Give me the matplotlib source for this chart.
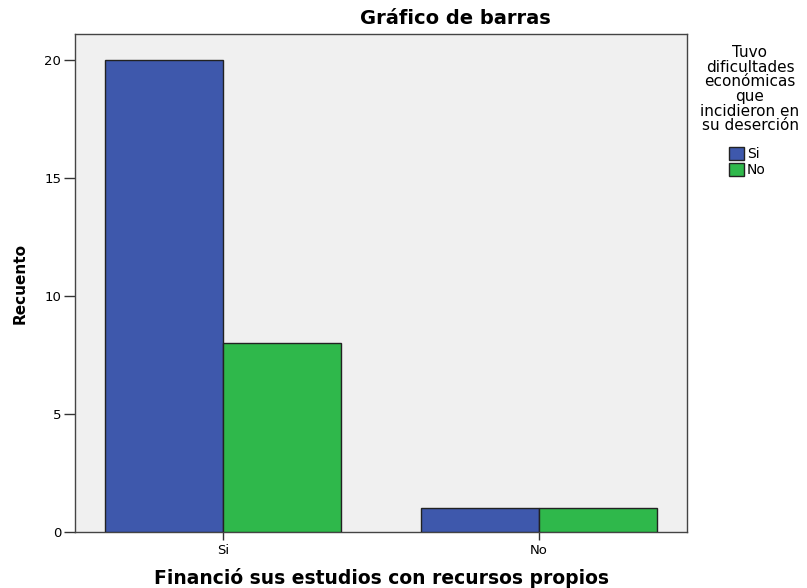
import numpy as np
import matplotlib
matplotlib.use("Agg")
from matplotlib import pyplot as plt
from matplotlib.patches import Patch

# data
categories = ["Si", "No"]
serie_si = [20, 1]
serie_no = [8, 1]
series_labels = ["Si", "No"]
y_ticks = [0, 5, 10, 15, 20]

blue = "#3e58ac"
green = "#2fb84b"
font = "DejaVu Sans"

fig = plt.figure(figsize=(8.07, 5.88), dpi=100)
ax = fig.add_axes([75/807, 1 - 532/588, (687-75)/807, (532-34)/588])
ax.set_facecolor("#f0f0f0")

x = np.arange(len(categories))
w = 0.373
ax.bar(x - w/2, serie_si, width=w, color=blue, edgecolor="#222222", linewidth=1.0, zorder=3)
ax.bar(x + w/2, serie_no, width=w, color=green, edgecolor="#222222", linewidth=1.0, zorder=3)

ax.set_xlim(-0.468, 1.468)
ax.set_ylim(0, 21.1)
ax.set_yticks(y_ticks)
ax.set_xticks(x)
ax.set_xticklabels(categories, fontsize=9.5, family=font)
ax.set_yticklabels([str(v) for v in y_ticks], fontsize=9.5, family=font)
ax.tick_params(axis="y", length=8, width=1, color="#333333", pad=2)
ax.tick_params(axis="x", length=6, width=1, color="#333333", pad=3)
for s in ax.spines.values():
    s.set_color("#444444")
    s.set_linewidth(1.0)

fig.text(20/807, 1 - 283/588, "Recuento", rotation=90, ha="center", va="center",
         fontsize=11, fontweight="bold", family=font)
fig.text(381/807, 1 - 578/588, "Financió sus estudios con recursos propios",
         ha="center", va="center", fontsize=13.5, fontweight="bold", family=font)
fig.text(455/807, 1 - 19/588, "Gráfico de barras", ha="center", va="center",
         fontsize=14, fontweight="bold", family=font)

fig.text(750/807, 1 - 45/588,
         "Tuvo\ndificultades\neconómicas\nque\nincidieron en\nsu deserción",
         ha="center", va="top", fontsize=11, family=font, linespacing=0.97)

handles = [Patch(facecolor=blue, edgecolor="#222222"), Patch(facecolor=green, edgecolor="#222222")]
fig.legend(handles, series_labels, loc="upper left", bbox_to_anchor=(729/807, 1 - 147/588),
           frameon=False, prop={"family": font, "size": 10},
           handlelength=1.1, handleheight=1.1, handletextpad=0.2, labelspacing=0.1,
           borderpad=0, borderaxespad=0)

plt.savefig("out.png", dpi=100)
